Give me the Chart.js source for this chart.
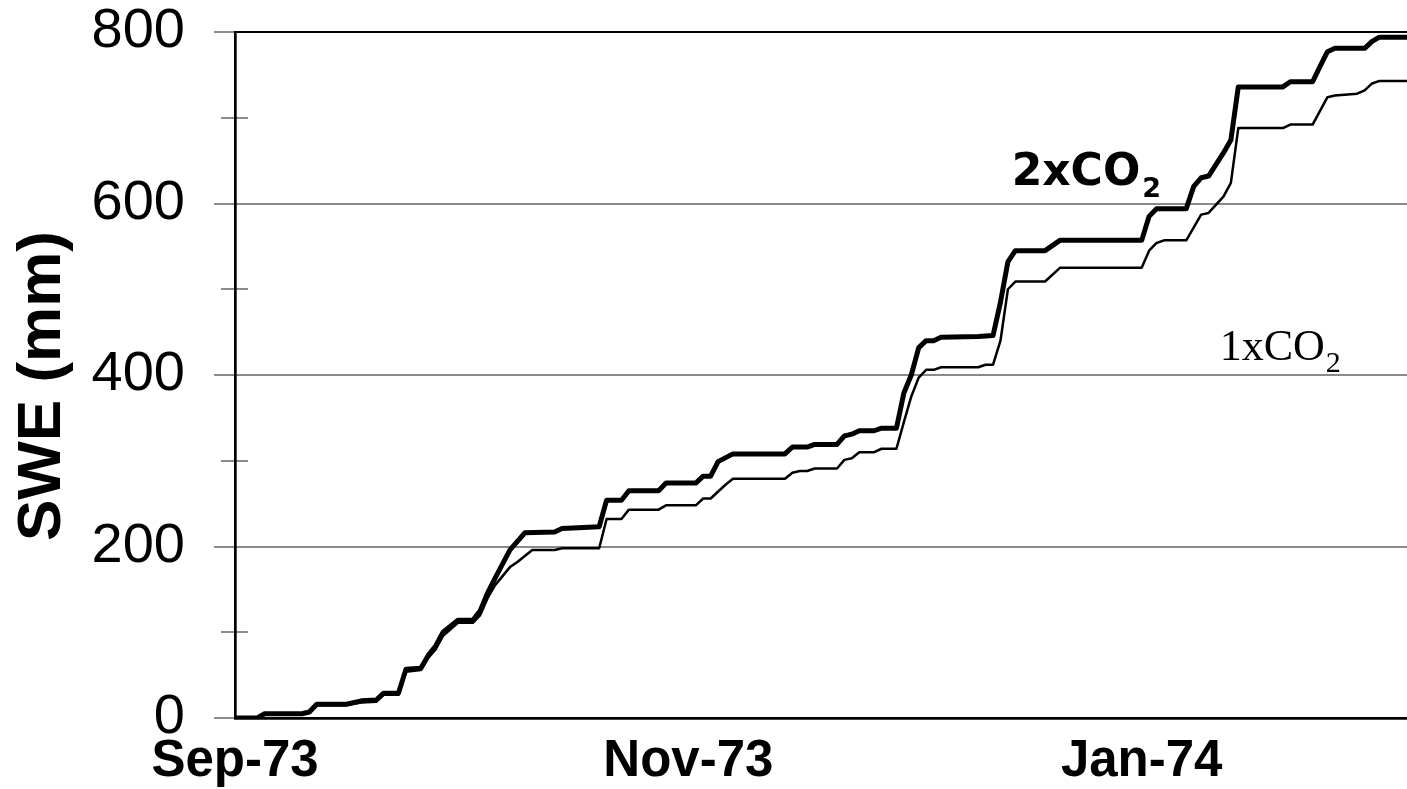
<!DOCTYPE html>
<html>
<head>
<meta charset="utf-8">
<script src="https://cdn.jsdelivr.net/npm/chart.js@4/dist/chart.umd.min.js"></script>
<style>
  html, body { margin: 0; padding: 0; background: #fff; }
  #wrap { width: 1407px; height: 789px; position: relative; }
</style>
</head>
<body>
<div id="wrap"><canvas id="sweChart"></canvas></div>
<script>
// x values are days since 1 Sep 1973
const tickDays = [0, 61, 122];
const tickLabels = ['Sep-73', 'Nov-73', 'Jan-74'];
const yTicks = [0, 200, 400, 600, 800];

// 2xCO2 run (thick line)
const days2x = [0, 3, 4, 9, 10, 11, 15, 17, 19, 20, 22, 23, 25, 26, 27, 28, 30, 32, 33, 34, 35, 37, 39, 43, 44, 49,
    50, 52, 53, 57, 58, 62, 63, 64, 65, 67, 74, 75, 77, 78, 81, 82, 83, 84, 86, 87, 89, 90, 91, 92, 93, 94, 95, 100,
    102, 103, 104, 105, 109, 111, 122, 123, 124, 128, 129, 130, 131, 133, 134, 135, 141, 142, 145, 146, 147, 148,
    152, 153, 154, 158];
const swe2x = [0, 0, 5, 5, 7, 16, 16, 20, 21, 29, 29, 57, 58, 73, 84, 100, 114, 114, 125, 146, 163, 196, 216, 217, 221, 223,
    254, 254, 265, 265, 274, 274, 282, 282, 299, 308, 308, 316, 316, 319, 319, 329, 331, 335, 335, 338, 338, 379, 400, 432, 440, 440, 444, 445,
    446, 485, 532, 545, 545, 557, 557, 585, 594, 594, 620, 630, 632, 659, 674, 736, 736, 742, 742, 760, 777, 781,
    781, 789, 794, 794];

// 1xCO2 run (thin line)
const days1x = [0, 3, 4, 9, 10, 11, 15, 17, 19, 20, 22, 23, 25, 26, 27, 28, 30, 32, 33, 34, 35, 37, 38, 40, 43, 44, 49,
    50, 52, 53, 57, 58, 62, 63, 64, 66, 67, 74, 75, 76, 77, 78, 81, 82, 83, 84, 86, 87, 89, 90, 91, 92, 93, 94, 95, 100,
    101, 102, 103, 104, 105, 109, 111, 122, 123, 124, 125, 128, 130, 131, 133, 134, 135, 141, 142, 145, 146, 147, 148,
    151, 152, 153, 154, 158];
const swe1x = [0, 0, 4, 4, 6, 15, 15, 18, 19, 27, 27, 54, 56, 70, 80, 96, 111, 111, 120, 140, 155, 176, 182, 196, 196, 198, 198,
    232, 232, 243, 243, 248, 248, 256, 256, 272, 279, 279, 286, 288, 288, 291, 291, 301, 303, 310, 310, 314, 314, 345, 375, 397, 406, 406, 409, 409,
    412, 412, 440, 500, 509, 509, 525, 525, 545, 554, 557, 557, 587, 589, 608, 624, 688, 688, 692, 692, 708, 724, 726,
    728, 732, 740, 743, 743];

// where the series names sit (day, SWE)
const label2xAt = [104.5, 622];
const label1xAt = [132.5, 417];

const toPoints = (xs, ys) => xs.map((d, i) => ({ x: d, y: ys[i] }));

// little gray tick marks across the y axis
const yTickMarks = {
    id: 'yTickMarks',
    beforeDraw(chart) {
        const ctx = chart.ctx;
        const y = chart.scales.y;
        const left = chart.chartArea.left;
        ctx.save();
        ctx.strokeStyle = '#8c8c8c';
        ctx.lineWidth = 2;
        y.ticks.forEach(t => {
            const py = Math.round(y.getPixelForValue(t.value));
            const major = t.value % 200 === 0;
            ctx.beginPath();
            ctx.moveTo(left - (major ? 21 : 14), py);
            ctx.lineTo(left + (major ? 20 : 13), py);
            ctx.stroke();
        });
        ctx.restore();
    }
};

const seriesLabels = {
    id: 'seriesLabels',
    afterDraw(chart) {
        const ctx = chart.ctx;
        const x = chart.scales.x, y = chart.scales.y;
        ctx.save();
        ctx.fillStyle = '#000';
        ctx.textBaseline = 'alphabetic';
        ctx.textAlign = 'left';

        // 2xCO2, bold sans
        let px = x.getPixelForValue(label2xAt[0]);
        let py = y.getPixelForValue(label2xAt[1]);
        ctx.font = 'bold 44px "DejaVu Sans"';
        ctx.fillText('2xCO', px, py);
        let w = ctx.measureText('2xCO').width;
        ctx.font = 'bold 27px "DejaVu Sans"';
        ctx.fillText('2', px + w + 2, py + 12);

        // 1xCO2, serif
        px = x.getPixelForValue(label1xAt[0]);
        py = y.getPixelForValue(label1xAt[1]);
        ctx.font = '44px "Liberation Serif"';
        ctx.fillText('1xCO', px, py);
        w = ctx.measureText('1xCO').width;
        ctx.font = '30px "Liberation Serif"';
        ctx.fillText('2', px + w + 1, py + 12);

        // y axis title
        ctx.translate(60, (chart.chartArea.top + chart.chartArea.bottom) / 2 + 11);
        ctx.rotate(-Math.PI / 2);
        ctx.textAlign = 'center';
        ctx.font = 'bold 62px "Liberation Sans"';
        ctx.fillText('SWE (mm)', 0, 0);
        ctx.restore();
    }
};

new Chart(document.getElementById('sweChart'), {
    type: 'line',
    data: {
        datasets: [
            {
                label: '2xCO2',
                data: toPoints(days2x, swe2x),
                borderColor: '#000',
                borderWidth: 5,
                pointRadius: 0,
                tension: 0,
                borderJoinStyle: 'round',
                borderCapStyle: 'round'
            },
            {
                label: '1xCO2',
                data: toPoints(days1x, swe1x),
                borderColor: '#000',
                borderWidth: 2.5,
                pointRadius: 0,
                tension: 0,
                borderJoinStyle: 'round',
                borderCapStyle: 'round'
            }
        ]
    },
    options: {
        responsive: true,
        maintainAspectRatio: false,
        animation: false,
        layout: { padding: { top: 32, right: 0, left: 0, bottom: 0 } },
        plugins: {
            legend: { display: false },
            tooltip: { enabled: false }
        },
        scales: {
            x: {
                type: 'linear',
                min: 0,
                max: 157.7,
                afterBuildTicks: s => { s.ticks = tickDays.map(v => ({ value: v })); },
                afterFit: s => {
                    s.height = 71;
                    s.paddingLeft = 0; s.paddingRight = 0;
                    s.paddingTop = 0; s.paddingBottom = 0;
                },
                grid: { display: false, drawTicks: false },
                border: { display: true, color: '#000', width: 2.7 },
                ticks: {
                    autoSkip: false,
                    maxRotation: 0,
                    padding: 13,
                    color: '#000',
                    font: { family: '"Liberation Sans", Arial', size: 51, weight: 'bold' },
                    callback: v => tickLabels[tickDays.indexOf(v)]
                }
            },
            y: {
                min: 0,
                max: 800,
                afterFit: s => {
                    s.width = 235;
                    s.paddingLeft = 0; s.paddingRight = 0;
                    s.paddingTop = 0; s.paddingBottom = 0;
                },
                grid: {
                    drawTicks: false,
                    lineWidth: 2,
                    color: c => {
                        const v = c.tick ? c.tick.value : 0;
                        if (v === 800) return '#000';
                        if (v > 0 && v % 200 === 0) return '#8a8a8a';
                        return 'rgba(0,0,0,0)';
                    }
                },
                border: { display: true, color: '#000', width: 2.7 },
                ticks: {
                    stepSize: 100,
                    padding: 50,
                    color: '#000',
                    font: { family: '"Liberation Sans", Arial', size: 56, lineHeight: 1 },
                    callback: v => yTicks.includes(v) ? String(v) : ''
                }
            }
        }
    },
    plugins: [yTickMarks, seriesLabels]
});
</script>
</body>
</html>
